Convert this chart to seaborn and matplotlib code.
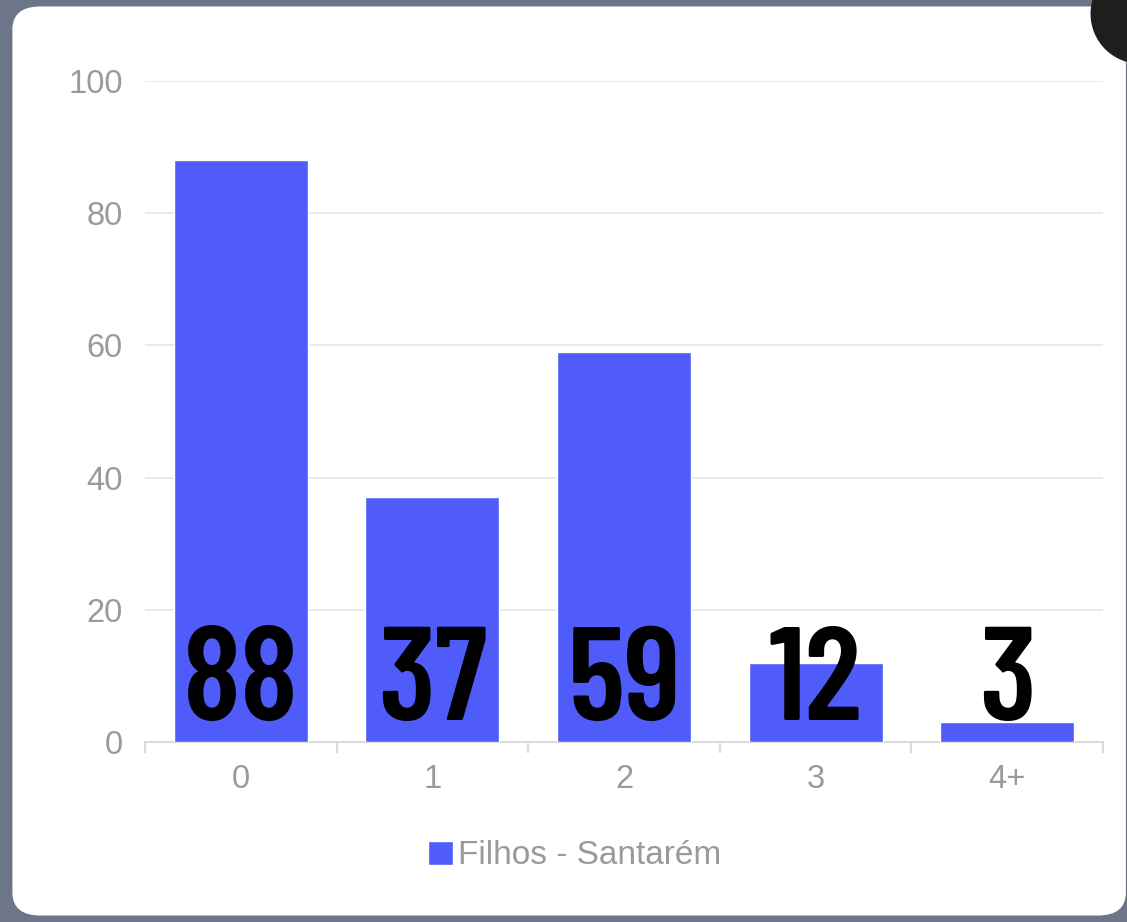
import numpy as np
import pandas as pd
import matplotlib.pyplot as plt
import matplotlib.patches as mpatches
import seaborn as sns

# data
categorias = ['0', '1', '2', '3', '4+']
quantidades = [88, 37, 59, 12, 3]
serie_nome = 'Filhos - Santarém'
y_ticks = [0, 20, 40, 60, 80, 100]

bar_color = '#505cfa'
tick_gray = '#9a9a9a'
grid_gray = '#e6e6e6'

df = pd.DataFrame({'Filhos': categorias, 'Quantidade': quantidades})

sns.set_style('white')
plt.rcParams['font.family'] = ['Liberation Sans', 'DejaVu Sans']

fig = plt.figure(figsize=(11.27, 9.22), dpi=100)
fig.patch.set_facecolor('#6d7688')

# white modal box behind the chart
modal = mpatches.FancyBboxPatch((0.011, 0.007), 0.988, 0.986,
                                boxstyle='round,pad=0,rounding_size=0.025',
                                transform=fig.transFigure, facecolor='white',
                                edgecolor='none', zorder=0)
fig.patches.append(modal)
close_btn = mpatches.Ellipse((1.012, 0.985), 100 / 1127, 100 / 922,
                             transform=fig.transFigure, facecolor='#1e1e1e',
                             edgecolor='none', zorder=1)
fig.patches.append(close_btn)

ax = fig.add_axes([0.1287, 0.1952, 0.85, 0.7169])
ax.set_zorder(5)
ax.set_facecolor('none')

sns.barplot(data=df, x='Filhos', y='Quantidade', ax=ax, color=bar_color,
            width=0.7, saturation=1, label=serie_nome, zorder=3)
if ax.get_legend() is not None:
    ax.get_legend().remove()

ax.set_xlim(-0.5, len(categorias) - 0.5)
ax.set_ylim(0, 100)
ax.set_yticks(y_ticks)
ax.set_xlabel('')
ax.set_ylabel('')

# gridlines
ax.yaxis.grid(True, color=grid_gray, linewidth=1.2, zorder=0)
ax.xaxis.grid(False)
ax.set_axisbelow(True)
for side in ['top', 'right', 'left']:
    ax.spines[side].set_visible(False)
ax.spines['bottom'].set_color('#dcdcdc')
ax.spines['bottom'].set_linewidth(1.5)

ax.tick_params(axis='y', length=0, pad=16, labelsize=23.5, labelcolor=tick_gray)
ax.tick_params(axis='x', which='major', length=0, pad=16, labelsize=23.5,
               labelcolor=tick_gray)
# small tick marks between categories
ax.set_xticks(np.arange(-0.5, len(categorias)), minor=True)
ax.tick_params(axis='x', which='minor', bottom=True, length=8, width=1.5,
               color='#dcdcdc')

# big value labels
for i, v in enumerate(quantidades):
    ax.text(i, 3.3, str(v), ha='center', va='baseline', fontsize=96,
            fontweight=600, color='black', zorder=5,
            family=['Barlow Condensed', 'DejaVu Sans'])

fig.legend([mpatches.Patch(facecolor=bar_color)], [serie_nome],
           loc='center', bbox_to_anchor=(0.51, 0.0716), frameon=False,
           fontsize=24, labelcolor=tick_gray, handlelength=0.75,
           handleheight=0.75, handletextpad=0.15)

plt.savefig('out.png', dpi=100, facecolor=fig.get_facecolor())
plt.close()
